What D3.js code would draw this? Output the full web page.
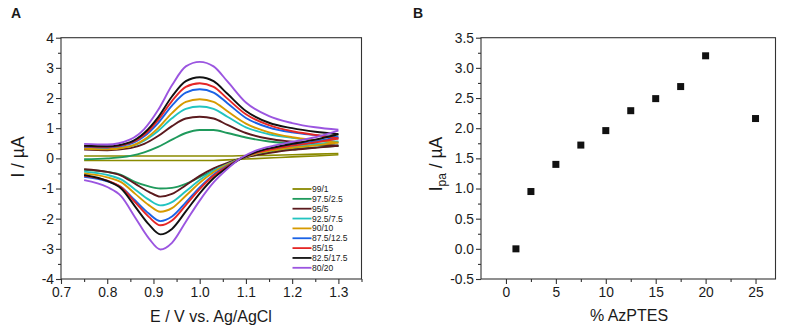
<!DOCTYPE html>
<html><head><meta charset="utf-8">
<script src="https://cdn.jsdelivr.net/npm/d3@7"></script>
<style>body{margin:0;background:#fff}svg{display:block}text{font-family:"Liberation Sans",Arial,sans-serif;fill:#1a1a1a}</style>
</head><body><svg id="c" width="785" height="332"></svg>
<script>
// ---- Panel A data (cyclic voltammograms) ----
const labelsA = ["99/1","97.5/2.5","95/5","92.5/7.5","90/10","87.5/12.5","85/15","82.5/17.5","80/20"];
const colorsA = ["#8a8a00","#1f9a5c","#5b1a1e","#22c4c0","#d69a00","#1a62e6","#e52626","#111111","#9b55e0"];
const potentialAnodic = [0.75,0.80,0.85,0.88,0.91,0.94,0.97,1.00,1.03,1.06,1.10,1.15,1.20,1.25,1.30];
const potentialCathodic = [0.75,0.80,0.83,0.86,0.89,0.915,0.94,0.97,1.00,1.03,1.06,1.09,1.12,1.16,1.20,1.25,1.30];
const anodic = [
  [0.08,0.08,0.08,0.08,0.08,0.08,0.08,0.08,0.08,0.08,0.09,0.10,0.12,0.14,0.16],
  [-0.03,0.00,0.08,0.20,0.38,0.62,0.84,0.94,0.94,0.84,0.69,0.56,0.49,0.45,0.42],
  [0.29,0.27,0.34,0.48,0.74,1.07,1.32,1.38,1.32,1.11,0.84,0.65,0.55,0.47,0.42],
  [0.34,0.32,0.40,0.59,0.91,1.33,1.64,1.72,1.64,1.38,1.03,0.80,0.68,0.60,0.55],
  [0.32,0.30,0.40,0.62,1.00,1.50,1.87,1.96,1.87,1.56,1.15,0.86,0.70,0.60,0.52],
  [0.38,0.36,0.48,0.73,1.17,1.75,2.18,2.29,2.18,1.83,1.34,1.02,0.86,0.77,0.70],
  [0.40,0.38,0.51,0.78,1.27,1.90,2.37,2.49,2.37,1.98,1.46,1.10,0.90,0.78,0.66],
  [0.42,0.40,0.54,0.84,1.36,2.05,2.56,2.69,2.56,2.14,1.57,1.18,1.00,0.88,0.80],
  [0.48,0.46,0.63,0.97,1.60,2.42,3.05,3.20,3.05,2.55,1.85,1.40,1.17,1.03,0.95]
];
const cathodic = [
  [-0.07,-0.07,-0.07,-0.07,-0.07,-0.07,-0.07,-0.07,-0.07,-0.07,-0.05,-0.03,-0.01,0.02,0.05,0.08,0.12],
  [-0.38,-0.45,-0.55,-0.78,-0.93,-1.00,-0.98,-0.85,-0.62,-0.40,-0.18,0.00,0.12,0.22,0.30,0.36,0.42],
  [-0.36,-0.45,-0.57,-0.84,-1.11,-1.27,-1.18,-0.89,-0.58,-0.33,-0.15,0.00,0.10,0.20,0.28,0.35,0.42],
  [-0.44,-0.55,-0.70,-1.03,-1.37,-1.56,-1.45,-1.09,-0.72,-0.41,-0.19,0.00,0.15,0.28,0.38,0.47,0.55],
  [-0.50,-0.63,-0.79,-1.17,-1.55,-1.77,-1.65,-1.24,-0.81,-0.46,-0.21,0.00,0.15,0.27,0.35,0.43,0.52],
  [-0.61,-0.76,-0.95,-1.39,-1.83,-2.08,-1.93,-1.46,-0.96,-0.54,-0.25,0.00,0.19,0.34,0.45,0.56,0.70],
  [-0.58,-0.74,-0.96,-1.45,-1.94,-2.22,-2.06,-1.55,-1.02,-0.58,-0.27,0.00,0.18,0.32,0.42,0.53,0.66],
  [-0.55,-0.75,-1.00,-1.59,-2.19,-2.52,-2.34,-1.76,-1.16,-0.66,-0.30,0.00,0.20,0.36,0.48,0.62,0.80],
  [-0.72,-0.95,-1.25,-1.95,-2.65,-3.02,-2.80,-2.10,-1.40,-0.80,-0.35,0.02,0.25,0.42,0.55,0.70,0.92]
];
const xTicksA = [0.7,0.8,0.9,1.0,1.1,1.2,1.3];
const yTicksA = [-4,-3,-2,-1,0,1,2,3,4];

// ---- Panel B data ----
const azptes = [1,2.5,5,7.5,10,12.5,15,17.5,20,25];
const ipa = [0.0,0.95,1.40,1.72,1.96,2.29,2.49,2.69,3.20,2.16];
const xTicksB = [0,5,10,15,20,25];
const yTicksB = [-0.5,0,0.5,1.0,1.5,2.0,2.5,3.0,3.5];

const svg = d3.select("#c");
const plotTop = 37.7, plotBottom = 279;
const hy = f => (d => f(d).replace("\u2212", "-"));

function frame(g, x0, x1) {
  g.append("rect").attr("x", x0).attr("y", plotTop).attr("width", x1 - x0).attr("height", plotBottom - plotTop)
    .attr("fill", "none").attr("stroke", "#333").attr("stroke-width", 1.1);
}
function axes(x, y, xt, yt, xminor, yminor, xfmt, yfmt) {
  const gx = svg.append("g").attr("transform", `translate(0,${plotBottom})`)
    .call(d3.axisBottom(x).tickValues(xt).tickSize(5).tickSizeOuter(0).tickFormat(xfmt).tickPadding(3));
  svg.append("g").attr("transform", `translate(0,${plotBottom})`)
    .call(d3.axisBottom(x).tickValues(xminor).tickSize(3).tickSizeOuter(0).tickFormat(""));
  const gy = svg.append("g").attr("transform", `translate(${x.range()[0]},0)`)
    .call(d3.axisLeft(y).tickValues(yt).tickSize(5).tickSizeOuter(0).tickFormat(yfmt).tickPadding(2));
  svg.append("g").attr("transform", `translate(${x.range()[0]},0)`)
    .call(d3.axisLeft(y).tickValues(yminor).tickSize(3).tickSizeOuter(0).tickFormat(""));
  svg.selectAll(".domain").remove();
  svg.selectAll(".tick line").attr("stroke", "#333").attr("stroke-width", 1.1);
  [gx, gy].forEach(g => g.selectAll("text").attr("font-size", 13.8).attr("fill", "#1a1a1a")
    .style("font-family", '"Liberation Sans",Arial,sans-serif'));
}

// ---- Panel A ----
const xA = d3.scaleLinear().domain([0.7, 1.35]).range([61, 361.5]);
const yA = d3.scaleLinear().domain([-4, 4]).range([plotBottom, plotTop]);
const minorXA = d3.range(0.75, 1.35, 0.1);
const minorYA = d3.range(-3.5, 4, 1);
axes(xA, yA, xTicksA, yTicksA, minorXA, minorYA, d3.format(".1f"), hy(d3.format("d")));

const line = d3.line().curve(d3.curveMonotoneX);
const curves = svg.append("g");
labelsA.forEach((lab, i) => {
  const w = i === 0 ? 1.6 : 1.9;
  curves.append("path").attr("d", line(potentialAnodic.map((e, k) => [xA(e), yA(anodic[i][k])])))
    .attr("fill", "none").attr("stroke", colorsA[i]).attr("stroke-width", w);
  curves.append("path").attr("d", line(potentialCathodic.map((e, k) => [xA(e), yA(cathodic[i][k])])))
    .attr("fill", "none").attr("stroke", colorsA[i]).attr("stroke-width", w);
});
frame(svg, 61, 361.5);

// legend
const leg = svg.append("g");
labelsA.forEach((lab, i) => {
  const yy = 189 + i * 9.85;
  leg.append("line").attr("x1", 292.5).attr("x2", 311.5).attr("y1", yy).attr("y2", yy)
    .attr("stroke", colorsA[i]).attr("stroke-width", 1.8);
  leg.append("text").attr("x", 312).attr("y", yy + 3).attr("font-size", 8.5).attr("fill", "#444").text(lab);
});

svg.append("text").attr("x", 211).attr("y", 322).attr("text-anchor", "middle").attr("font-size", 16)
  .text("E / V vs. Ag/AgCl");
svg.append("text").attr("transform", "translate(24,157) rotate(-90)").attr("text-anchor", "middle")
  .attr("font-size", 17.5).text("I / µA");
svg.append("text").attr("x", 11).attr("y", 17.5).attr("font-size", 14).attr("font-weight", "bold").text("A");

// ---- Panel B ----
const xB = d3.scaleLinear().domain([-2.5, 27]).range([481, 775.5]);
const yB = d3.scaleLinear().domain([-0.5, 3.5]).range([plotBottom, plotTop]);
axes(xB, yB, xTicksB, yTicksB, d3.range(2.5, 27, 5), d3.range(-0.25, 3.5, 0.5), d3.format("d"), hy(d3.format(".1f")));
frame(svg, 481, 775.5);
svg.append("g").selectAll("rect").data(azptes).join("rect")
  .attr("x", (d) => xB(d) - 3.5).attr("y", (d, i) => yB(ipa[i]) - 3.5)
  .attr("width", 7).attr("height", 7).attr("fill", "#111");

svg.append("text").attr("x", 629).attr("y", 321).attr("text-anchor", "middle").attr("font-size", 16)
  .text("% AzPTES");
const yt = svg.append("text").attr("transform", "translate(442,164) rotate(-90)").attr("text-anchor", "middle")
  .attr("font-size", 17.5);
yt.append("tspan").text("I");
yt.append("tspan").attr("font-size", 12).attr("dy", 4).text("pa");
yt.append("tspan").attr("dy", -4).text(" / µA");
svg.append("text").attr("x", 413).attr("y", 17.5).attr("font-size", 14).attr("font-weight", "bold").text("B");
</script></body></html>
